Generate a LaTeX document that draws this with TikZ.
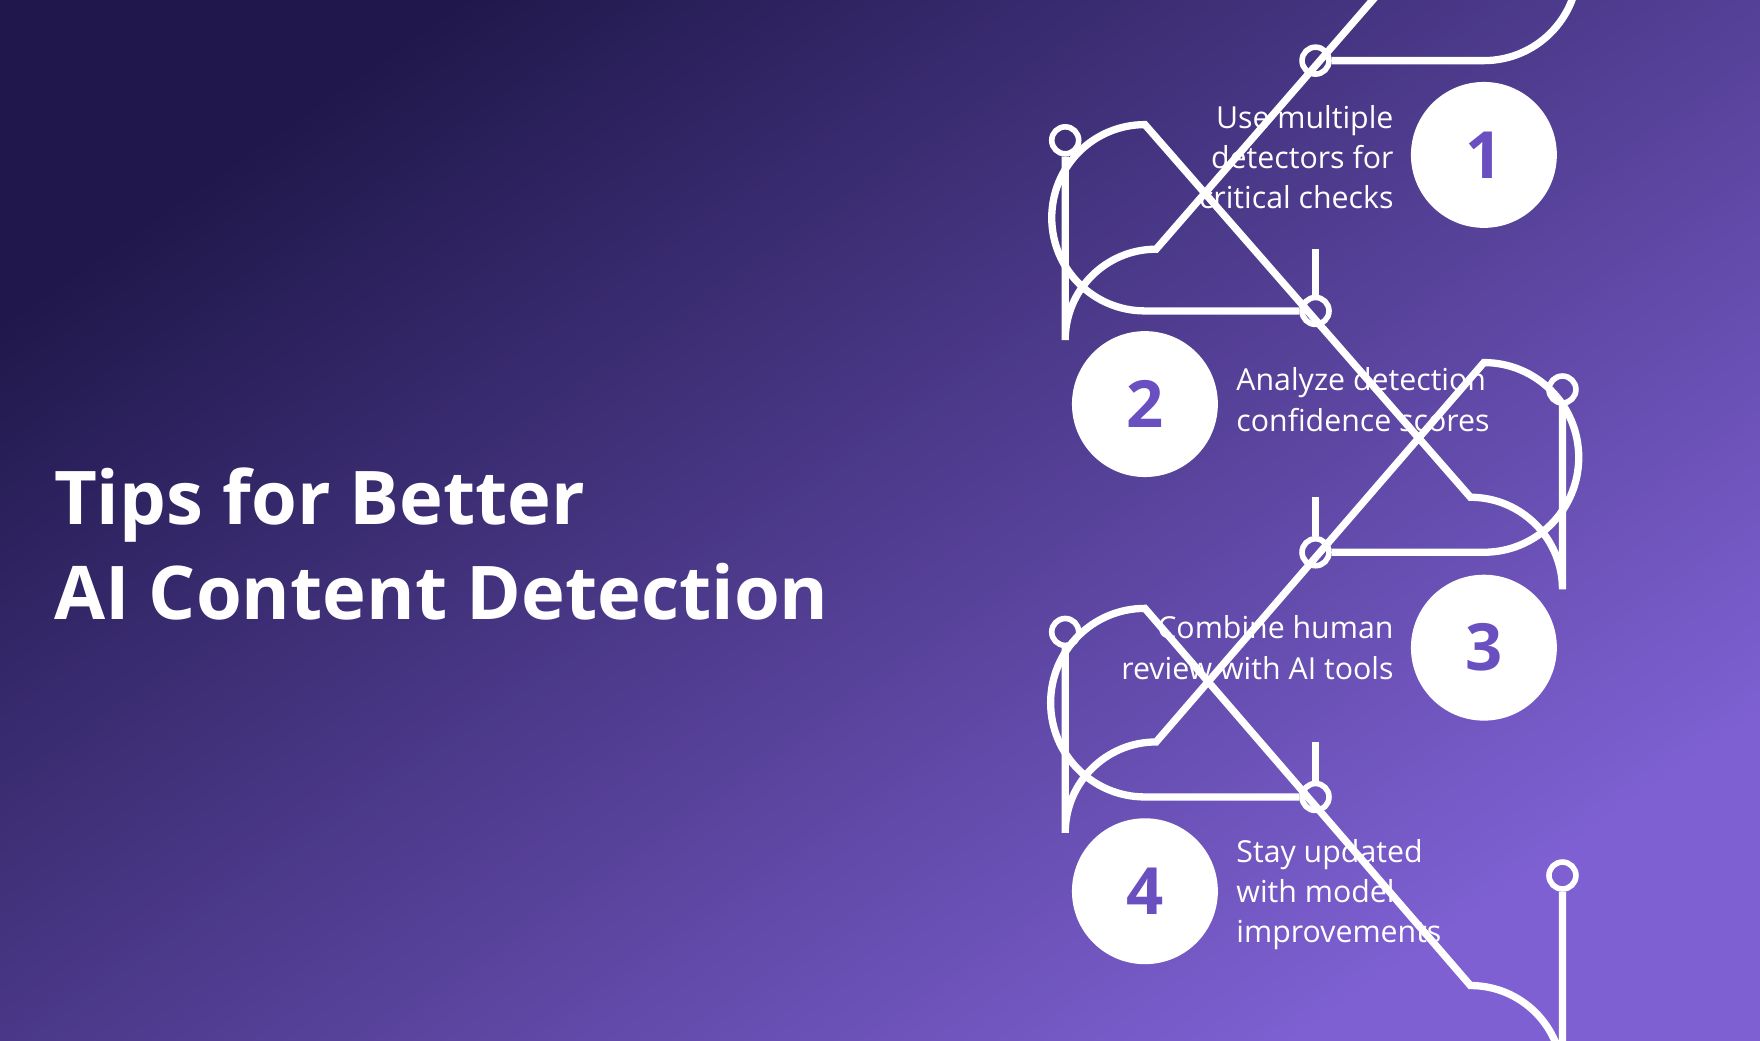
\documentclass[tikz,border=0pt]{standalone}
\usepackage{fontspec}
\setmainfont{Open Sans}
\definecolor{numc}{HTML}{6A4FC0}
\definecolor{bgul}{RGB}{32,24,76}
\definecolor{bglr}{RGB}{126,96,210}
\begin{document}
\begin{tikzpicture}[x=1pt,y=-1pt,
  track/.style={draw=white,line width=6.5pt},
  dotc/.style={circle,draw=white,line width=5pt,minimum size=24pt,inner sep=0pt},
  numcirc/.style={circle,fill=white,minimum size=130pt,inner sep=0pt,text=numc,font=\fontsize{58}{60}\selectfont\bfseries},
  tipR/.style={text=white,align=right,anchor=east,font=\fontsize{27}{36}\selectfont},
  tipL/.style={text=white,align=left,anchor=west,font=\fontsize{27}{36}\selectfont}]
\shade[top color=bgul,bottom color=bglr,shading angle=35]
 (0,0) rectangle (1568,927);
\useasboundingbox (0,0) rectangle (1568,927);
% title
\node[anchor=south west,text=white,align=left,inner sep=0pt,font=\fontsize{66}{85}\selectfont\bfseries] (title) at (48,553)
 {Tips for Better\\AI Content Detection};
% dots
\node[dotc] (d1a) at (1172,54) {};
\node[dotc] (d1b) at (949,125) {};
\node[dotc] (d2a) at (1172,277) {};
\node[dotc] (d2b) at (1392,347) {};
\node[dotc] (d3a) at (1172,492) {};
\node[dotc] (d3b) at (949,563) {};
\node[dotc] (d4a) at (1172,710) {};
\node[dotc] (d4b) at (1392,780) {};
% tracks
\draw[track] (d1a.east) -- (1322,54) arc[start angle=90,end angle=-90,radius=84] -- (1030,222) arc[start angle=-90,end angle=-180,radius=81] -- (d1b.south);
\draw[track] (1172,222) -- (d2a.north);
\draw[track] (d2a.west) -- (1020,277) arc[start angle=90,end angle=270,radius=83] -- (1310,443) arc[start angle=-90,end angle=0,radius=82] -- (d2b.south);
\draw[track] (1172,443) -- (d3a.north);
\draw[track] (d3a.east) -- (1322,492) arc[start angle=90,end angle=-90,radius=84.5] -- (1030,661) arc[start angle=-90,end angle=-180,radius=81] -- (d3b.south);
\draw[track] (1172,661) -- (d4a.north);
\draw[track] (d4a.west) -- (1020,710) arc[start angle=90,end angle=270,radius=84] -- (1310,878) arc[start angle=-90,end angle=0,radius=82] -- (d4b.south);
% number circles
\node[numcirc] (n1) at (1322,138) {1};
\node[numcirc] (n2) at (1020,360) {2};
\node[numcirc] (n3) at (1322,577) {3};
\node[numcirc] (n4) at (1020,794) {4};
% texts
\node[tipR] (t1) at (1245,140) {Use multiple\\detectors for\\critical checks};
\node[tipL] (t2) at (1098,356) {Analyze detection\\confidence scores};
\node[tipR] (t3) at (1245,577) {Combine human\\review with AI tools};
\node[tipL] (t4) at (1098,797) {Stay updated\\with model\\improvements};
\end{tikzpicture}
\end{document}
